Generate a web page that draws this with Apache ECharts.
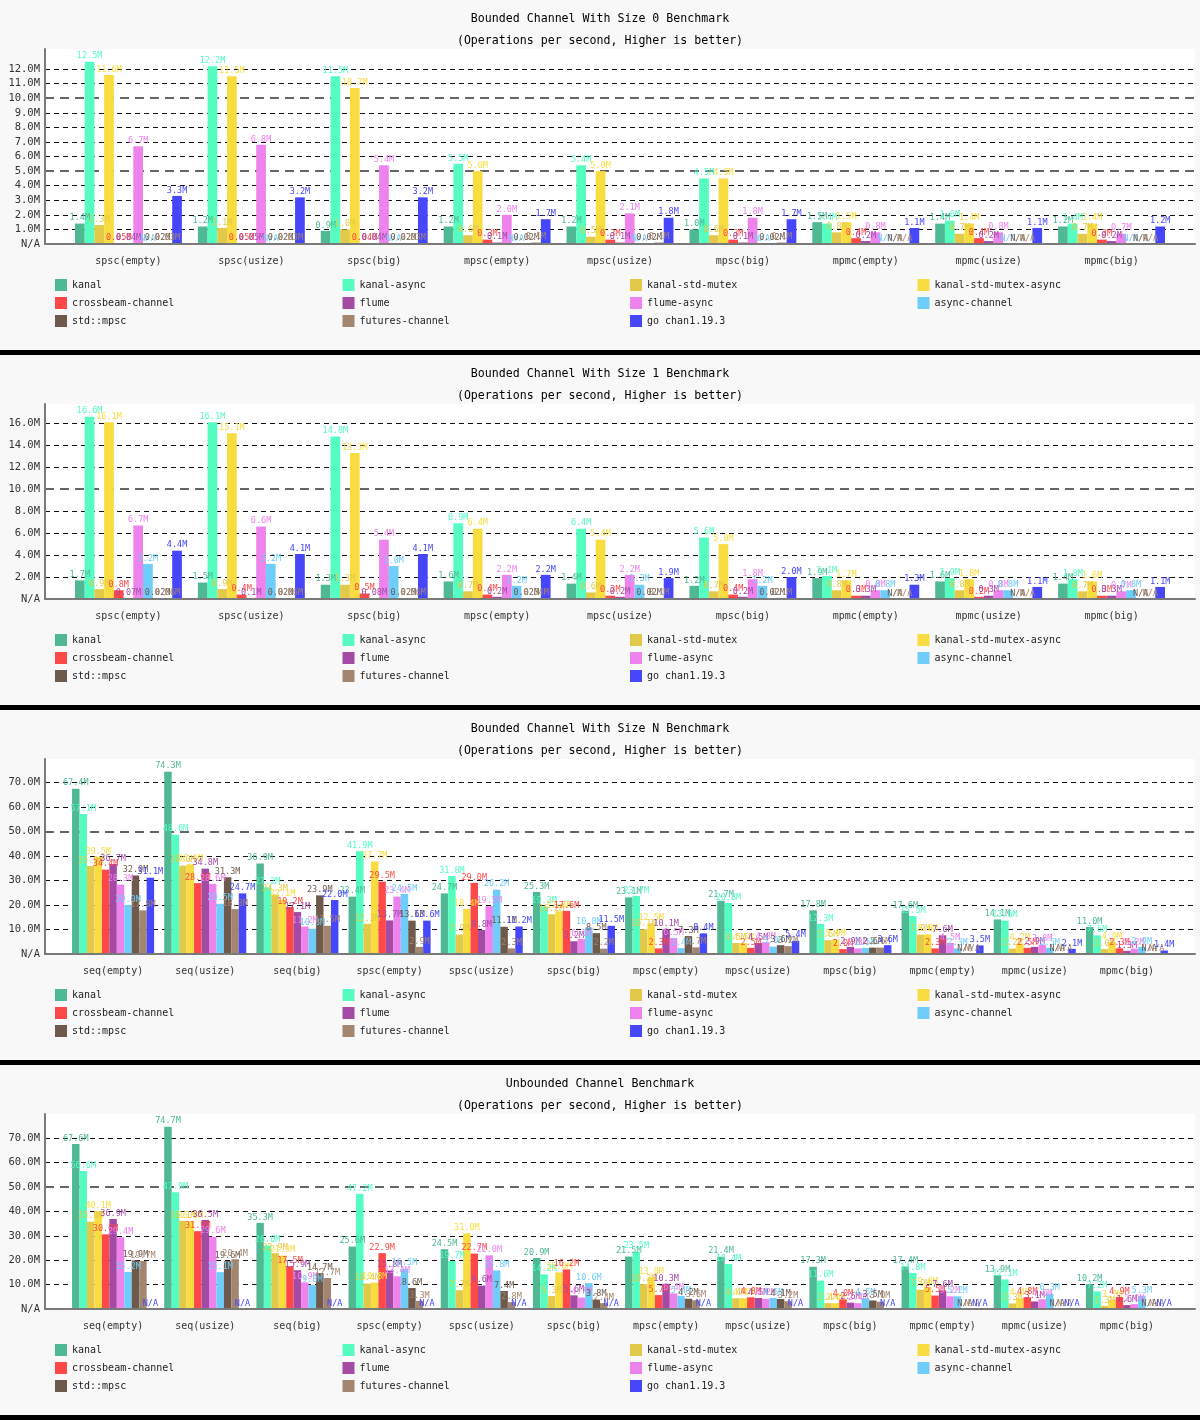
<!DOCTYPE html>
<html><head><meta charset="utf-8">
<script src="https://cdn.jsdelivr.net/npm/echarts@6/dist/echarts.min.js"></script>
<style>
html,body{margin:0;padding:0;background:#000;}
.panel{width:1200px;height:350px;background:#f8f8f8;margin-bottom:5px;}
</style></head><body>
<div class="panel" id="p0"></div>
<div class="panel" id="p1"></div>
<div class="panel" id="p2"></div>
<div class="panel" id="p3"></div>
<script>
// ---------- DATA ----------
const SERIES_NAMES = ['kanal','kanal-async','kanal-std-mutex','kanal-std-mutex-async','crossbeam-channel','flume','flume-async','async-channel','std::mpsc','futures-channel','go chan1.19.3'];
const SERIES_COLORS = ['#4fb993','#55fdc0','#e3c94a','#f9dd40','#ff4848','#a44aa4','#ee83ee','#6fcdf9','#6d5a4d','#a3866f','#4646fb'];

const CATS_BOUNDED_SMALL = ['spsc(empty)','spsc(usize)','spsc(big)','mpsc(empty)','mpsc(usize)','mpsc(big)','mpmc(empty)','mpmc(usize)','mpmc(big)'];
const CATS_FULL = ['seq(empty)','seq(usize)','seq(big)','spsc(empty)','spsc(usize)','spsc(big)','mpsc(empty)','mpsc(usize)','mpsc(big)','mpmc(empty)','mpmc(usize)','mpmc(big)'];

// Bounded Channel With Size 0 (M ops/s, null = N/A)
const b0_kanal          = [1.4, 1.2, 0.9, 1.2, 1.2, 1.0, 1.5, 1.4, 1.2];
const b0_kanalAsync     = [12.5, 12.2, 11.5, 5.5, 5.4, 4.5, 1.4, 1.6, 1.4];
const b0_kanalStd       = [1.3, 1.1, 1.0, 0.6, 0.5, 0.6, 0.8, 0.7, 0.7];
const b0_kanalStdAsync  = [11.6, 11.5, 10.7, 5.0, 5.0, 4.5, 1.5, 1.4, 1.4];
const b0_crossbeam      = [0.05, 0.05, 0.04, 0.3, 0.3, 0.3, 0.4, 0.4, 0.3];
const b0_flume          = [0.04, 0.05, 0.04, 0.1, 0.1, 0.1, 0.2, 0.2, 0.2];
const b0_flumeAsync     = [6.7, 6.8, 5.4, 2.0, 2.1, 1.8, 0.8, 0.8, 0.7];
const b0_asyncChannel   = [null, null, null, null, null, null, null, null, null];
const b0_stdMpsc        = [0.02, 0.02, 0.02, 0.02, 0.02, 0.02, null, null, null];
const b0_futures        = [0.03, 0.03, 0.03, 0.1, 0.1, 0.1, null, null, null];
const b0_go             = [3.3, 3.2, 3.2, 1.7, 1.8, 1.7, 1.1, 1.1, 1.2];

// Bounded Channel With Size 1
const b1_kanal          = [1.7, 1.5, 1.3, 1.6, 1.4, 1.2, 1.9, 1.6, 1.4];
const b1_kanalAsync     = [16.6, 16.1, 14.8, 6.9, 6.4, 5.6, 2.1, 1.9, 1.8];
const b1_kanalStd       = [0.9, 0.9, 1.3, 0.7, 0.6, 0.7, 0.8, 0.8, 0.7];
const b1_kanalStdAsync  = [16.1, 15.1, 13.3, 6.4, 5.4, 5.0, 1.7, 1.8, 1.6];
const b1_crossbeam      = [0.8, 0.4, 0.5, 0.4, 0.3, 0.4, 0.3, 0.2, 0.3];
const b1_flume          = [0.07, 0.1, 0.08, 0.2, 0.2, 0.2, 0.3, 0.3, 0.3];
const b1_flumeAsync     = [6.7, 6.6, 5.4, 2.2, 2.2, 1.8, 0.8, 0.8, 0.7];
const b1_asyncChannel   = [3.2, 3.2, 3.0, 1.2, 1.3, 1.2, 0.8, 0.8, 0.8];
const b1_stdMpsc        = [0.02, 0.02, 0.02, 0.02, 0.02, 0.02, null, null, null];
const b1_futures        = [0.06, 0.06, 0.06, 0.04, 0.1, 0.1, null, null, null];
const b1_go             = [4.4, 4.1, 4.1, 2.2, 1.9, 2.0, 1.3, 1.1, 1.1];

// Bounded Channel With Size N
const bn_kanal          = [67.4, 74.3, 36.9, 23.4, 24.7, 25.3, 23.1, 21.7, 17.8, 17.6, 14.1, 11.0];
const bn_kanalAsync     = [57.1, 48.6, 27.2, 41.9, 31.8, 19.3, 23.7, 20.8, 12.3, 15.5, 13.6, 7.6];
const bn_kanalStd       = [35.9, 36.0, 24.3, 12.3, 7.9, 16.2, 10.1, 4.5, 5.6, 7.9, 2.2, 2.0];
const bn_kanalStdAsync  = [39.5, 36.6, 22.1, 37.7, 18.4, 17.4, 12.5, 4.5, 5.9, 8.0, 4.2, 4.9];
const bn_crossbeam      = [34.4, 28.9, 19.2, 29.5, 29.0, 17.6, 2.3, 2.5, 2.0, 2.3, 2.5, 2.3];
const bn_flume          = [36.7, 34.8, 17.1, 13.7, 9.8, 5.2, 10.1, 4.5, 2.9, 7.6, 2.9, 1.3];
const bn_flumeAsync     = [28.3, 28.6, 11.2, 23.4, 19.5, 6.1, 6.5, 4.8, 2.3, 4.5, 3.8, 2.2];
const bn_asyncChannel   = [20.0, 20.5, 10.3, 24.5, 26.2, 10.8, 2.4, 3.0, 2.5, 2.3, 2.5, 2.9];
const bn_stdMpsc        = [32.0, 31.3, 23.9, 13.6, 11.1, 8.5, 7.3, 3.6, 2.6, null, null, null];
const bn_futures        = [17.8, 18.3, 11.5, 2.9, 2.3, 2.2, 2.7, 3.2, 2.6, null, null, null];
const bn_go             = [31.1, 24.7, 22.0, 13.6, 11.2, 11.5, 8.4, 5.4, 3.6, 3.5, 2.1, 1.4];

// Unbounded Channel
const ub_kanal          = [67.6, 74.7, 35.3, 25.6, 24.5, 20.9, 21.5, 21.4, 17.3, 17.4, 13.9, 10.2];
const ub_kanalAsync     = [56.6, 47.9, 26.0, 47.2, 19.7, 14.2, 23.5, 18.4, 11.6, 14.8, 12.1, 7.2];
const ub_kanalStd       = [35.8, 36.1, 22.9, 10.4, 7.7, 5.3, 10.2, 4.4, 2.4, 7.9, 2.3, 1.3];
const ub_kanalStdAsync  = [40.1, 36.0, 21.9, 10.8, 31.0, 15.0, 13.0, 4.4, 2.4, 9.0, 4.4, 3.7];
const ub_crossbeam      = [30.6, 31.9, 17.5, 22.9, 22.7, 16.2, 5.7, 4.8, 4.0, 5.5, 4.8, 4.9];
const ub_flume          = [36.9, 36.5, 15.9, 15.8, 9.6, 5.6, 10.3, 4.5, 2.6, 7.6, 3.1, 1.6];
const ub_flumeAsync     = [29.4, 29.6, 10.9, 13.4, 22.0, 4.7, 6.4, 4.2, 2.4, 5.2, 4.0, 2.0];
const ub_asyncChannel   = [15.2, 15.1, 9.8, 16.5, 15.8, 10.6, 5.4, 4.5, 4.5, 5.2, 6.3, 5.3];
const ub_stdMpsc        = [19.9, 19.6, 14.7, 8.6, 7.4, 3.8, 4.2, 4.1, 3.5, null, null, null];
const ub_futures        = [19.7, 20.4, 12.7, 3.3, 2.8, 2.4, 3.6, 3.2, 3.0, null, null, null];
const ub_go             = [null, null, null, null, null, null, null, null, null, null, null, null];

const PANELS = [
  {title:'Bounded Channel With Size 0 Benchmark', cats:CATS_BOUNDED_SMALL, interval:1, major:5, gap:'13%',
   rows:[b0_kanal,b0_kanalAsync,b0_kanalStd,b0_kanalStdAsync,b0_crossbeam,b0_flume,b0_flumeAsync,b0_asyncChannel,b0_stdMpsc,b0_futures,b0_go]},
  {title:'Bounded Channel With Size 1 Benchmark', cats:CATS_BOUNDED_SMALL, interval:2, major:10, gap:'13%',
   rows:[b1_kanal,b1_kanalAsync,b1_kanalStd,b1_kanalStdAsync,b1_crossbeam,b1_flume,b1_flumeAsync,b1_asyncChannel,b1_stdMpsc,b1_futures,b1_go]},
  {title:'Bounded Channel With Size N Benchmark', cats:CATS_FULL, interval:10, major:50, gap:'11%',
   rows:[bn_kanal,bn_kanalAsync,bn_kanalStd,bn_kanalStdAsync,bn_crossbeam,bn_flume,bn_flumeAsync,bn_asyncChannel,bn_stdMpsc,bn_futures,bn_go]},
  {title:'Unbounded Channel Benchmark', cats:CATS_FULL, interval:10, major:50, gap:'11%',
   rows:[ub_kanal,ub_kanalAsync,ub_kanalStd,ub_kanalStdAsync,ub_crossbeam,ub_flume,ub_flumeAsync,ub_asyncChannel,ub_stdMpsc,ub_futures,ub_go]}
];
const SUBTITLE = '(Operations per second, Higher is better)';

// ---------- RENDER ----------
const FONT = 'DejaVu Sans Mono';
function fmt(v){ return (v < 0.1 ? v.toFixed(2) : v.toFixed(1)) + 'M'; }

function buildOption(p){
  let maxVal = 0;
  p.rows.forEach(r => r.forEach(v => { if (v != null && v > maxVal) maxVal = v; }));
  const yMax = maxVal * 1.07;                                  // value range of plot
  const tickTop = Math.floor(maxVal / p.interval) * p.interval; // ticks only up to data max
  const gridTop = 49, gridBottom = 106, plotH = 350 - gridTop - gridBottom;
  const tickGridTop = gridTop + (yMax - tickTop) / yMax * plotH;
  const legendRowTops = [279, 297, 315];
  const majorAtTop = Math.abs(tickTop % p.major) < 1e-9;
  return {
    animation:false,
    title:[
      {text:p.title, left:'center', top:12, padding:0, textStyle:{fontFamily:FONT, fontSize:11.6, fontWeight:'normal', color:'#000', lineHeight:14}},
      {text:SUBTITLE, left:'center', top:34, padding:0, textStyle:{fontFamily:FONT, fontSize:11.6, fontWeight:'normal', color:'#000', lineHeight:14}}
    ],
    legend: SERIES_NAMES.map((n,i) => ({
      data:[n], left:55 + (i % 4) * 287.5, top:legendRowTops[Math.floor(i/4)],
      padding:0, itemWidth:12, itemHeight:12, icon:'rect', selectedMode:false,
      textStyle:{fontFamily:FONT, fontSize:10, color:'#222'}
    })),
    grid:[
      {left:45, right:5, top:gridTop, bottom:gridBottom, show:true, backgroundColor:'#ffffff', borderWidth:0},
      {left:67, right:27, top:gridTop, bottom:gridBottom},
      {left:45, right:5, top:tickGridTop, bottom:gridBottom}
    ],
    xAxis:[
      {gridIndex:0, type:'value', min:0, max:1, axisLine:{show:true, onZero:false, lineStyle:{color:'#7a7a7a', width:2}},
       axisTick:{show:false}, axisLabel:{show:false}, splitLine:{show:false}, z:5},
      {gridIndex:1, type:'category', data:p.cats, axisLine:{show:false}, axisTick:{show:false}, splitLine:{show:false},
       axisLabel:{interval:0, fontFamily:FONT, fontSize:10, color:'#333', margin:12}},
      {gridIndex:2, type:'value', min:0, max:1, show:false, splitLine:{show:false}}
    ],
    yAxis:[
      {gridIndex:0, type:'value', min:0, max:yMax, axisLine:{show:true, onZero:false, lineStyle:{color:'#7a7a7a', width:2}},
       axisTick:{show:false}, axisLabel:{show:false}, splitLine:{show:false}, z:5},
      {gridIndex:1, type:'value', min:0, max:yMax, show:false, splitLine:{show:false}},
      {gridIndex:2, type:'value', min:0, max:tickTop, interval:p.interval,
       axisLine:{show:false}, axisTick:{show:false},
       axisLabel:{fontFamily:FONT, fontSize:10.5, color:'#333', margin:5,
         formatter: v => v === 0 ? 'N/A' : v.toFixed(1) + 'M'},
       splitLine:{show:true, showMinLine:true, showMaxLine:true, lineStyle:{color:['rgba(0,0,0,0)','#111','#111','#111','#111'], type:[5,4], width:1}}},
      {gridIndex:2, type:'value', min:0, max:tickTop, interval:p.major,
       axisLine:{show:false}, axisTick:{show:false}, axisLabel:{show:false},
       splitLine:{show:true, showMinLine:false, showMaxLine:majorAtTop, lineStyle:{color:'#666', type:[9,6], width:2}}}
    ],
    series: SERIES_NAMES.map((n,i) => ({
      name:n, type:'bar', xAxisIndex:1, yAxisIndex:1,
      barGap:'0%', barCategoryGap:p.gap,
      itemStyle:{color:SERIES_COLORS[i]},
      emphasis:{disabled:true},
      label:{show:true, position:'top', distance:1, fontFamily:FONT, fontSize:8.5, color:SERIES_COLORS[i],
        formatter: d => fmt(d.value)},
      data: p.rows[i].map(v => v == null ? {value:0, label:{formatter:'N/A'}} : v)
    }))
  };
}

PANELS.forEach((p, idx) => {
  const chart = echarts.init(document.getElementById('p' + idx), null, {renderer:'canvas'});
  chart.setOption(buildOption(p));
});
</script>
</body></html>
